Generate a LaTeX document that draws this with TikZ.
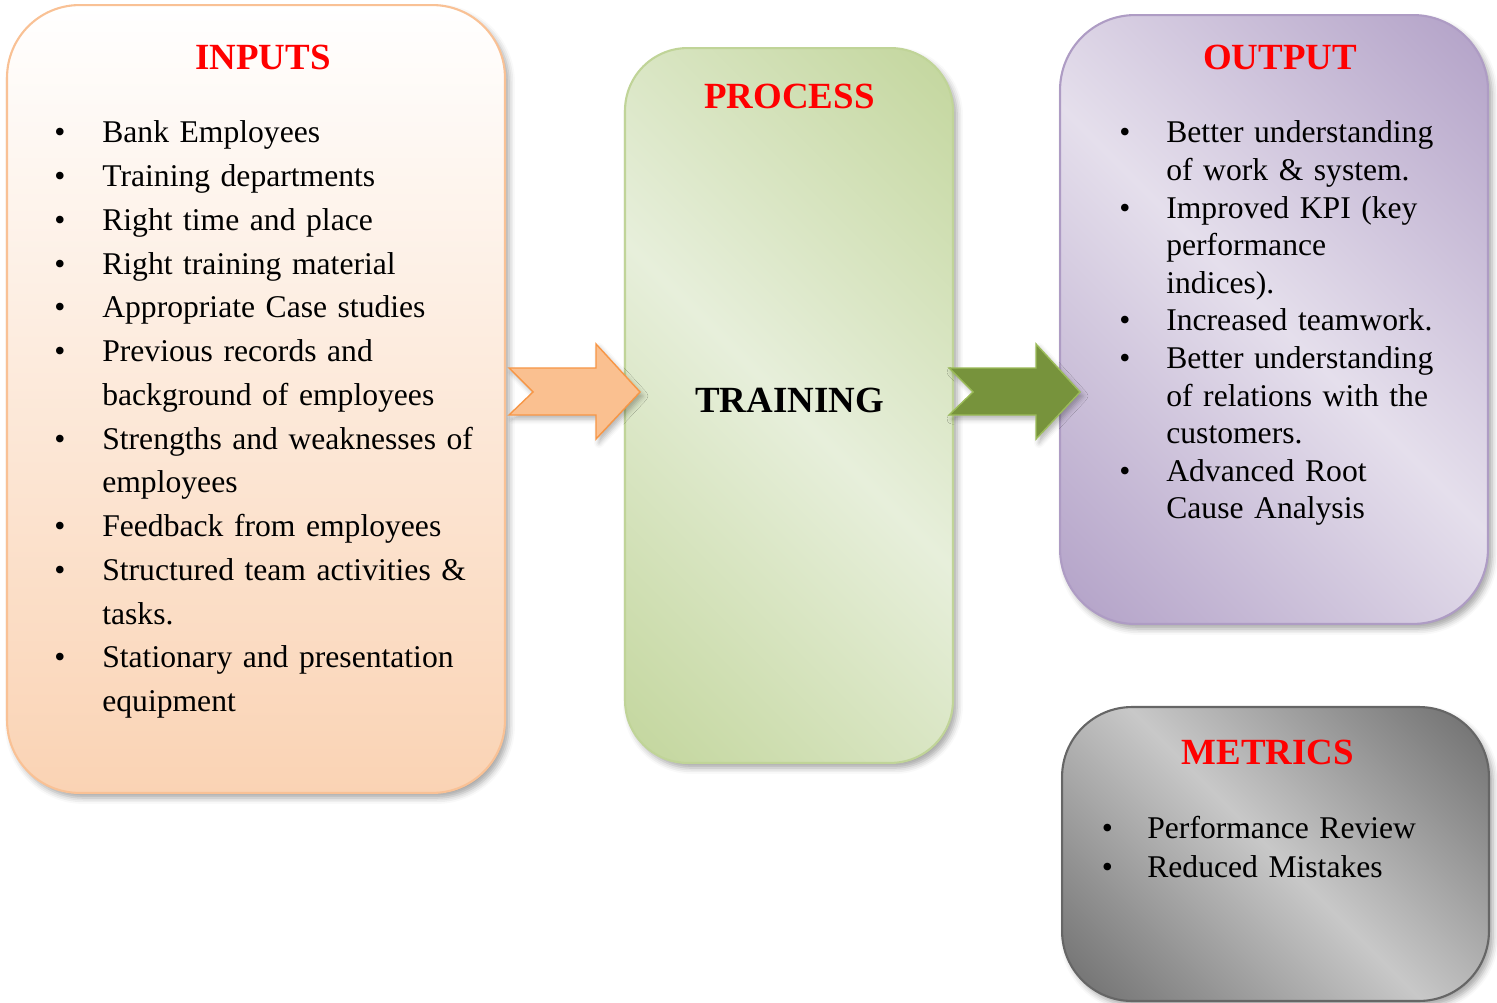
\documentclass[tikz,border=0pt]{standalone}
\usepackage{fontspec}
\setmainfont{Liberation Serif}
\usepackage{tikz}
\usetikzlibrary{calc,shadows.blur}

\definecolor{peach}{HTML}{FAD3B4}
\definecolor{peachline}{HTML}{F9C195}
\definecolor{gdark}{HTML}{C0D498}
\definecolor{glight}{HTML}{E7EFDB}
\definecolor{pdark}{HTML}{AE9CC4}
\definecolor{plight}{HTML}{E5DFEC}
\definecolor{gydark}{HTML}{666666}
\definecolor{gylight}{HTML}{C8C8C8}
\definecolor{arrorange}{HTML}{FAC090}
\definecolor{arrorangeline}{HTML}{F79646}
\definecolor{arrgreen}{HTML}{77933C}
\definecolor{arrgreenline}{HTML}{9BBB59}

\pgfdeclarehorizontalshading{greenband}{100bp}{color(0bp)=(gdark); color(12bp)=(gdark); color(50bp)=(glight); color(88bp)=(gdark); color(100bp)=(gdark)}
\pgfdeclarehorizontalshading{purpleband}{100bp}{color(0bp)=(pdark); color(12bp)=(pdark); color(50bp)=(plight); color(88bp)=(pdark); color(100bp)=(pdark)}
\pgfdeclarehorizontalshading{grayband}{100bp}{color(0bp)=(gydark); color(12bp)=(gydark); color(50bp)=(gylight); color(88bp)=(gydark); color(100bp)=(gydark)}

\newlength{\bulind}
\newcommand{\itm}[1]{\hangindent=\bulind\hangafter=1\noindent\makebox[\bulind][l]{\textbullet}#1\par}

\tikzset{
    pics/blockarrow/.style={code={
        \draw[pic actions, blur shadow={shadow xshift=0.06cm, shadow yshift=-0.08cm, shadow blur radius=0.1cm, shadow opacity=30}]
            (0,-24) -- (87,-24) -- (87,-48) -- (131,0) -- (87,47) -- (87,23) -- (0,23) -- (24,0) -- cycle;
    }}
}

\begin{document}
\begin{tikzpicture}[x=0.02cm, y=-0.02cm]
        \tikzstyle{box}=[draw, line width=1.2pt, inner sep=0pt, blur shadow={shadow xshift=0.08cm, shadow yshift=-0.1cm, shadow blur radius=0.12cm, shadow opacity=35}]
        \tikzstyle{title}=[anchor=base, inner sep=0pt, text=red, font=\fontsize{21}{25}\selectfont\bfseries]
        \tikzstyle{list}=[anchor=base west, inner sep=0pt]

        \useasboundingbox (0,0) rectangle (1497,1003);

        \node[box, draw=peachline, top color=white, bottom color=peach, minimum width=9.96cm, minimum height=15.76cm, rounded corners=1.45cm] (inputs) at (256,399) {};
        \node[box, draw=gdark, shade, shading=greenband, shading angle=45, minimum width=6.56cm, minimum height=14.3cm, rounded corners=1.25cm] (process) at (789,405.5) {};
        \node[box, draw=pdark, shade, shading=purpleband, shading angle=45, minimum width=8.56cm, minimum height=12.18cm, rounded corners=1.5cm] (output) at (1274,319.5) {};
        \node[box, draw=gydark, shade, shading=grayband, shading angle=45, minimum width=8.54cm, minimum height=5.88cm, rounded corners=1.4cm] (metrics) at (1275.5,854) {};

        \pic[fill=arrorange, draw=arrorangeline, line width=0.8pt] at ($(inputs.east)+(3,-7)$) {blockarrow};
        \pic[fill=arrgreen, draw=arrgreenline, line width=0.8pt] at ($(process.east)+(-5,-13.5)$) {blockarrow};

        \node[title] (intitle) at (263,70) {INPUTS};
        \node[title] (proctitle) at (789.5,109) {PROCESS};
        \node[title, text=black] (train) at (789.5,412) {TRAINING};
        \node[title] (outtitle) at (1280,70) {OUTPUT};
        \node[title] (mettitle) at (1268,764) {METRICS};

        \node[list, text width=9cm, font=\fontsize{18}{24.9}\selectfont] (inlist) at (54,143) {\raggedright\setlength{\bulind}{0.96cm}%
            \itm{Bank Employees}
            \itm{Training departments}
            \itm{Right time and place}
            \itm{Right training material}
            \itm{Appropriate Case studies}
            \itm{Previous records and\newline background of employees}
            \itm{Strengths and weaknesses of\newline employees}
            \itm{Feedback from employees}
            \itm{Structured team activities \&\newline tasks.}
            \itm{Stationary and presentation\newline equipment}};

        \node[list, text width=7.4cm, font=\fontsize{18}{21.4}\selectfont] (outlist) at (1119,143) {\raggedright\setlength{\bulind}{0.94cm}%
            \itm{Better understanding\newline of work \& system.}
            \itm{Improved KPI (key\newline performance\newline indices).}
            \itm{Increased teamwork.}
            \itm{Better understanding\newline of relations with the\newline customers.}
            \itm{Advanced Root\newline Cause Analysis}};

        \node[list, text width=7.6cm, font=\fontsize{18}{22.6}\selectfont] (metlist) at (1101.5,838) {\raggedright\setlength{\bulind}{0.91cm}%
            \itm{Performance Review}
            \itm{Reduced Mistakes}};
    \end{tikzpicture}
\end{document}
